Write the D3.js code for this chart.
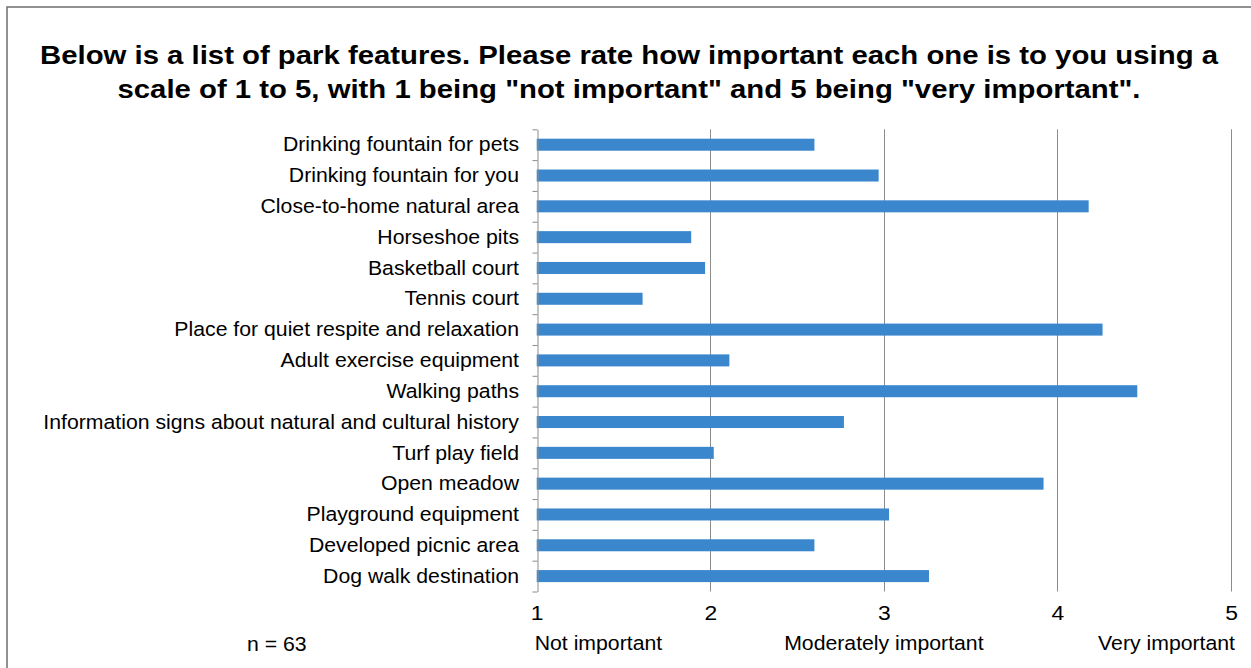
<!DOCTYPE html>
<html>
<head>
<meta charset="utf-8">
<script src="https://cdn.jsdelivr.net/npm/d3@7"></script>
<style>
  html, body { margin: 0; padding: 0; background: #fff; }
  svg { display: block; }
  text { font-family: "Liberation Sans", Arial, sans-serif; fill: #000; }
</style>
</head>
<body>
<svg id="chart" width="1251" height="668"></svg>
<script>
const categories = [
  "Drinking fountain for pets",
  "Drinking fountain for you",
  "Close-to-home natural area",
  "Horseshoe pits",
  "Basketball court",
  "Tennis court",
  "Place for quiet respite and relaxation",
  "Adult exercise equipment",
  "Walking paths",
  "Information signs about natural and cultural history",
  "Turf play field",
  "Open meadow",
  "Playground equipment",
  "Developed picnic area",
  "Dog walk destination"
];
const values = [2.60, 2.97, 4.18, 1.89, 1.97, 1.61, 4.26, 2.11, 4.46, 2.77, 2.02, 3.92, 3.03, 2.60, 3.26];
const tickValues = [1, 2, 3, 4, 5];
const scaleLabelValues = [1, 3, 5];
const scaleLabels = ["Not important", "Moderately important", "Very important"];
const titleLines = [
  "Below is a list of park features. Please rate how important each one is to you using a",
  "scale of 1 to 5, with 1 being \"not important\" and 5 being \"very important\"."
];
const sampleNote = "n = 63";

const svg = d3.select("#chart");
const SX = 1.09; // horizontal stretch of the reference's text

// outer frame
svg.append("rect")
  .attr("x", 7).attr("y", 7).attr("width", 1260).attr("height", 680)
  .attr("fill", "none").attr("stroke", "#6e6e6e").attr("stroke-width", 1.5);

const plot = { left: 536.7, right: 1231, top: 129.3, bottom: 591.5 };
const x = d3.scaleLinear().domain([1, 5]).range([plot.left, plot.right]);
const y = d3.scaleBand().domain(categories).range([plot.top, plot.bottom])
  .paddingInner(0.61).paddingOuter(0.305);
const yIdx = d3.scaleLinear().domain([0, categories.length]).range([plot.top, plot.bottom]);

function stretch(sel, px, py) {
  sel.attr("x", 0).attr("y", 0)
     .attr("transform", `translate(${px},${py}) scale(${SX},1)`);
}

// title
titleLines.forEach((t, i) => {
  svg.append("text")
    .attr("x", 629).attr("y", 64 + i * 34)
    .attr("text-anchor", "middle")
    .attr("font-size", 26).attr("font-weight", "bold")
    .attr("textLength", i === 0 ? 1178 : 1023)
    .attr("lengthAdjust", "spacingAndGlyphs")
    .text(t);
});

// vertical gridlines
svg.append("g").selectAll("line")
  .data(tickValues.filter(v => v > 1))
  .join("line")
  .attr("x1", d => Math.round(x(d)) + 0.5).attr("x2", d => Math.round(x(d)) + 0.5)
  .attr("y1", plot.top).attr("y2", plot.bottom)
  .attr("stroke", "#8c8c8c").attr("stroke-width", 1);

// bars
svg.append("g").selectAll("rect")
  .data(categories.map((c, i) => ({ c, v: values[i] })))
  .join("rect")
  .attr("x", x(1))
  .attr("y", d => y(d.c))
  .attr("width", d => x(d.v) - x(1))
  .attr("height", y.bandwidth())
  .attr("fill", "#3a87cd");

// left axis (line + tick marks at band boundaries)
const yAxis = svg.append("g")
  .attr("transform", `translate(${Math.round(plot.left) + 0.5},0)`)
  .call(d3.axisLeft(yIdx).tickValues(d3.range(categories.length + 1))
    .tickFormat("").tickSize(5).tickSizeOuter(0));
yAxis.selectAll("path, line").attr("stroke", "#8c8c8c");

// category labels
svg.append("g").selectAll("text")
  .data(categories)
  .join("text")
  .attr("text-anchor", "end")
  .attr("dominant-baseline", "central")
  .attr("font-size", 19.5)
  .text(d => d)
  .each(function (d) { stretch(d3.select(this), 519, y(d) + y.bandwidth() / 2); });

// x tick numbers
const xAxis = svg.append("g")
  .attr("transform", `translate(0,${plot.bottom})`)
  .call(d3.axisBottom(x).tickValues(tickValues).tickFormat(d3.format("d")).tickSize(0).tickPadding(0));
xAxis.select(".domain").remove();
xAxis.selectAll(".tick text")
  .attr("font-family", null).attr("font-size", 21).attr("fill", "#000")
  .attr("dy", null)
  .each(function () { stretch(d3.select(this), 0, 28.5); });

// scale word labels
const anchors = ["start", "middle", "end"];
const offs = [-2, 0, 4];
svg.append("g").selectAll("text")
  .data(scaleLabelValues)
  .join("text")
  .attr("text-anchor", (d, i) => anchors[i])
  .attr("font-size", 19.5)
  .text((d, i) => scaleLabels[i])
  .each(function (d, i) { stretch(d3.select(this), x(d) + offs[i], 650); });

// sample size note
svg.append("text")
  .attr("font-size", 19.5)
  .text(sampleNote)
  .call(s => stretch(s, 247, 651));
</script>
</body>
</html>
